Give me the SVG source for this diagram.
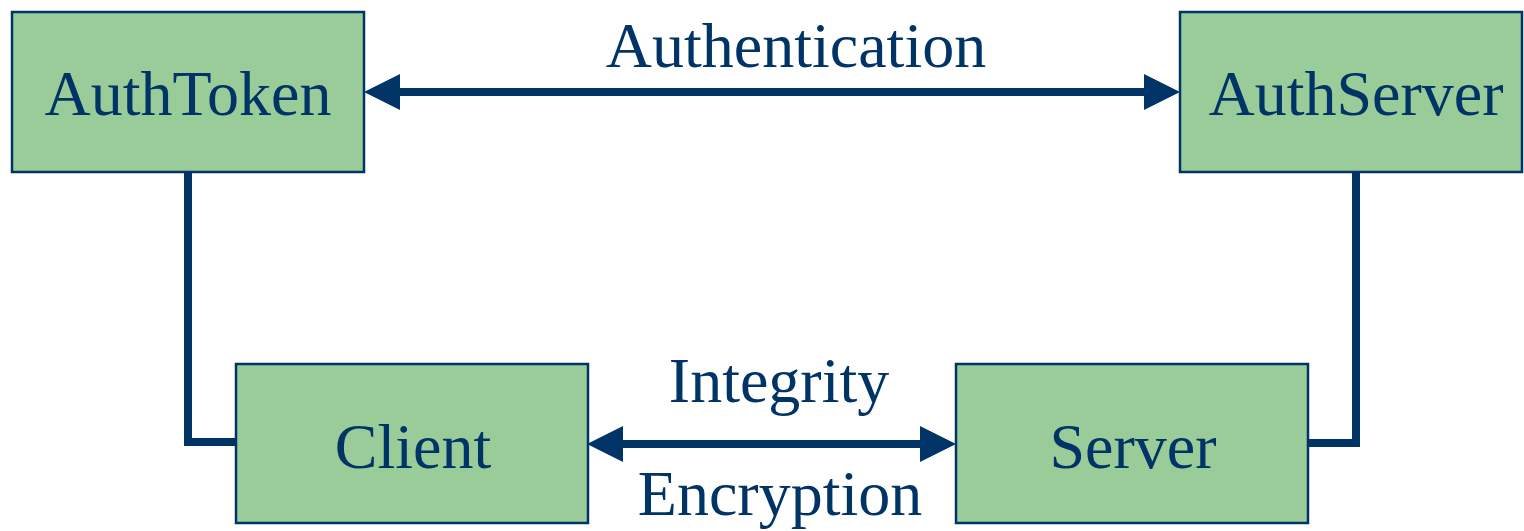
<svg xmlns="http://www.w3.org/2000/svg" width="1524" height="531" viewBox="0 0 1524 531">
<style>
.box{fill:#99cc99;stroke:#003366;stroke-width:2.5}
.t{font-family:"Liberation Serif","Times New Roman",serif;font-size:64px;fill:#003366;text-anchor:middle}
.ln{fill:none;stroke:#003366;stroke-width:8}
</style>
<defs>
<marker id="ah" viewBox="0 0 36 36" refX="0" refY="18" markerWidth="36" markerHeight="36" markerUnits="userSpaceOnUse" orient="auto-start-reverse">
<path d="M0,0 L36,18 L0,36 Z" fill="#003366"/>
</marker>
</defs>
<rect width="1524" height="531" fill="#fff"/>
<g id="connectors">
<path class="ln" d="M188,172 V442 H236"/>
<path class="ln" d="M1356,172 V443 H1308"/>
<line class="ln" x1="400" y1="92" x2="1144" y2="92" marker-start="url(#ah)" marker-end="url(#ah)"/>
<line class="ln" x1="623" y1="444" x2="920" y2="444" marker-start="url(#ah)" marker-end="url(#ah)"/>
<text class="t" x="796" y="67">Authentication</text>
<text class="t" x="779" y="402">Integrity</text>
<text class="t" x="780" y="515">Encryption</text>
</g>
<g id="AuthToken"><rect class="box" x="12" y="12" width="352" height="160"/><text class="t" x="188" y="115">AuthToken</text></g>
<g id="AuthServer"><rect class="box" x="1180" y="12" width="342" height="160"/><text class="t" x="1356" y="115">AuthServer</text></g>
<g id="Client"><rect class="box" x="236" y="364" width="352" height="159"/><text class="t" x="413" y="468">Client</text></g>
<g id="Server"><rect class="box" x="956" y="364" width="352" height="159"/><text class="t" x="1133" y="468">Server</text></g>
</svg>
